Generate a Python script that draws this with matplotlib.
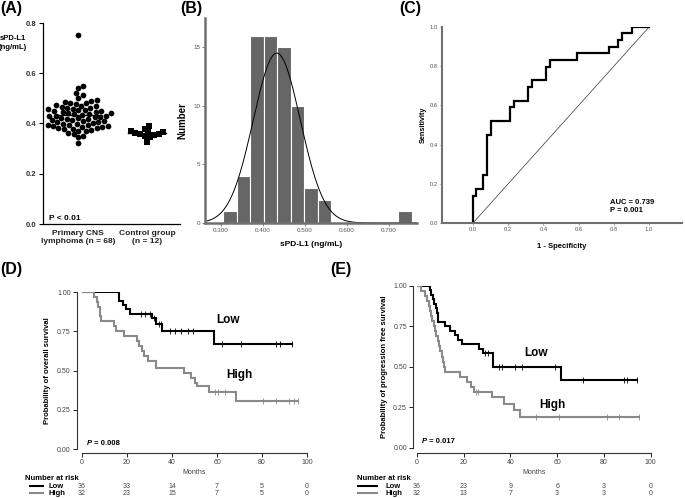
import numpy as np
import matplotlib
matplotlib.use("Agg")
import matplotlib.pyplot as plt
import matplotlib.transforms as mtransforms

plt.rcParams['font.family'] = ['Liberation Sans', 'DejaVu Sans']

W, H = 685, 498
fig = plt.figure(figsize=(W / 100, H / 100), dpi=100)

# ---------------- data ----------------
lymphoma = [0.322,
            0.345, 0.352, 0.358, 0.364,
            0.371, 0.372, 0.375, 0.377, 0.380, 0.382, 0.384, 0.386, 0.388, 0.390, 0.391, 0.393, 0.395, 0.396, 0.398, 0.399,
            0.403, 0.404, 0.406, 0.408, 0.410, 0.412, 0.414, 0.416, 0.418, 0.420, 0.422, 0.424, 0.426, 0.428, 0.430, 0.431,
            0.435, 0.436, 0.438, 0.440, 0.442, 0.444, 0.446, 0.448, 0.450, 0.452, 0.454, 0.456, 0.458, 0.460, 0.462,
            0.467, 0.468, 0.471, 0.474, 0.477, 0.480, 0.483, 0.486, 0.489, 0.492,
            0.500, 0.512, 0.520,
            0.540, 0.550,
            0.752]
control = [0.328, 0.345, 0.350, 0.355, 0.358, 0.360, 0.362, 0.365, 0.368, 0.372, 0.380, 0.392]
groups = ["Primary CNS\nlymphoma (n = 68)", "Control group\n(n = 12)"]

hist_edges = 0.306 + 0.032 * np.arange(15)
fit_mean, fit_sd, fit_peak = 0.433, 0.056, 14.5

roc_fpr = [0, 0, 0.019, 0.019, 0.057, 0.057, 0.080, 0.080, 0.105, 0.105, 0.212, 0.212, 0.235, 0.235,
           0.312, 0.312, 0.337, 0.337, 0.413, 0.413, 0.439, 0.439, 0.593, 0.593, 0.773, 0.773,
           0.824, 0.824, 0.848, 0.848, 0.905, 0.905, 1.0]
roc_tpr = [0, 0.136, 0.136, 0.173, 0.173, 0.243, 0.243, 0.45, 0.45, 0.519, 0.519, 0.59, 0.59, 0.624,
           0.624, 0.692, 0.692, 0.728, 0.728, 0.796, 0.796, 0.83, 0.83, 0.867, 0.867, 0.90,
           0.90, 0.935, 0.935, 0.969, 0.969, 1.0, 1.0]

# KM overall survival (D)
os_low_t = [16.5, 18, 19.5, 21.5, 31, 33, 35.5, 58.5]
os_low_s = [0.944, 0.917, 0.889, 0.861, 0.833, 0.796, 0.753, 0.669]
os_low_cens = [26, 27.8, 30, 32, 34.3, 35, 39, 41.5, 44, 47, 49.5, 62, 70.5, 86.3, 88, 93.3]
os_low_end = 93.5
os_high_t = [5.5, 6.5, 7.2, 7.8, 8.5, 14, 15, 18.5, 24.5, 25.5, 26.5, 27.5, 29.5, 33, 45.5, 48.5, 50, 51, 56.5, 68.5]
os_high_s = [0.969, 0.938, 0.906, 0.844, 0.813, 0.781, 0.75, 0.719, 0.688, 0.656, 0.625, 0.594,
             0.5625, 0.516, 0.484, 0.452, 0.42, 0.403, 0.366, 0.305]
os_high_cens = [59, 60.5, 63.5, 80.5, 86, 92, 94, 96]
os_high_end = 96

# KM progression free survival (E)
pfs_low_t = [5.7, 6.3, 6.9, 7.5, 8.1, 8.6, 9.0, 12.3, 14.2, 16.2, 17.8, 19.5, 26.5, 28.5, 32.5, 61.5]
pfs_low_s = [0.972, 0.944, 0.917, 0.889, 0.861, 0.833, 0.778, 0.75, 0.722, 0.694, 0.667, 0.639,
             0.611, 0.583, 0.5, 0.417]
pfs_low_cens = [29, 30.3, 35.2, 36.3, 42, 44.9, 59.1, 71, 88.5, 90, 94]
pfs_low_end = 94
pfs_high_t = [1.9, 3.6, 4.6, 5.2, 5.6, 6.1, 6.6, 7.2, 7.8, 8.4, 9.0, 9.5, 10.1, 10.6, 11.1, 11.6, 12.2,
              18.5, 21.5, 23, 24.5, 32, 37.5, 41.5, 44]
pfs_high_s = [0.969, 0.938, 0.906, 0.875, 0.844, 0.813, 0.781, 0.75, 0.719, 0.688, 0.656, 0.625, 0.594,
              0.5625, 0.531, 0.5, 0.469, 0.438, 0.406, 0.375, 0.344, 0.31, 0.27, 0.23, 0.19]
pfs_high_cens = [25.5, 26.3, 51, 61, 81.5, 86.5, 95]
pfs_high_end = 95

risk_months = [0, 20, 40, 60, 80, 100]
os_risk_low = [36, 33, 14, 7, 5, 0]
os_risk_high = [32, 23, 15, 7, 5, 0]
pfs_risk_low = [36, 23, 9, 6, 3, 0]
pfs_risk_high = [32, 13, 7, 3, 3, 0]

GRAY = '#8a8a8a'
SPINE_GRAY = '#707070'


def add_ax(l, t, r, b):
    return fig.add_axes([l / W, 1 - b / H, (r - l) / W, (b - t) / H])


def ftext(x, y, s, **kw):
    fig.text(x / W, 1 - y / H, s, **kw)


# panel letters
for lab, x, y in [("(A)", 0, 1), ("(B)", 180, 1), ("(C)", 399, 1), ("(D)", 0, 262), ("(E)", 330, 262)]:
    ftext(x, y, lab, fontsize=11.5, fontweight='bold', va='top', ha='left')

# ---------------- Panel A ----------------
axA = add_ax(43, 23, 180, 224)
axA.set_xlim(0.49, 2.48)
axA.set_ylim(0, 0.8)
px_per_x = 137 / (2.48 - 0.49)
px_per_y = 201 / 0.8


def swarm(vals, d):
    order = np.argsort(vals)
    placed = []
    offs = np.zeros(len(vals))
    for i in order:
        y = vals[i] * px_per_y
        cands = [0.0]
        for (qx, qy) in placed:
            dy = abs(y - qy)
            if dy < d:
                dx = np.sqrt(d * d - dy * dy)
                cands += [qx + dx, qx - dx]
        cands.sort(key=abs)
        xsel = 0.0
        for c in cands:
            if all((c - qx) ** 2 + (y - qy) ** 2 >= d * d - 1e-6 for qx, qy in placed):
                xsel = c
                break
        placed.append((xsel, y))
        offs[i] = xsel
    return offs / px_per_x


lv = np.array(lymphoma)
cv = np.array(control)
axA.scatter(1 + swarm(lv, 5.6), lv, s=17, color='black', zorder=3, linewidths=0)
axA.scatter(2 + swarm(cv, 5.0), cv, s=15, marker='s', color='black', zorder=3, linewidths=0)
axA.plot([1 - 0.34, 1 + 0.34], [lv.mean()] * 2, color='black', lw=1.0, zorder=4)
axA.plot([2 - 0.28, 2 + 0.28], [cv.mean()] * 2, color='black', lw=1.0, zorder=4)
axA.spines['top'].set_visible(False)
axA.spines['right'].set_visible(False)
axA.spines['left'].set_linewidth(0.9)
axA.spines['bottom'].set_linewidth(0.9)
axA.set_yticks([0, 0.2, 0.4, 0.6, 0.8])
axA.set_yticklabels(['0.0', '0.2', '0.4', '0.6', '0.8'], fontsize=5.5, fontweight='bold', color='#333333')
axA.tick_params(axis='y', length=3, width=0.8, pad=1.5)
axA.set_xticks([1, 2])
axA.set_xticklabels(groups, fontsize=6, fontweight='bold', color='#222222')
axA.tick_params(axis='x', length=0, pad=4)
axA.text(0.57, 0.02, "P < 0.01", fontsize=6, fontweight='bold', va='center')
ftext(13, 43, "sPD-L1\n(ng/mL)", fontsize=5.5, fontweight='bold', ha='center', va='center', linespacing=1.3)

# ---------------- Panel B ----------------
axB = add_ax(205, 18, 417, 223)
axB.hist(lymphoma, bins=hist_edges, color='#666666', edgecolor='white', linewidth=0.8)
axB.set_xlim(0.262, 0.767)
axB.set_ylim(0, 17.5)
xx = np.linspace(0.262, 0.767, 300)
axB.plot(xx, fit_peak * np.exp(-0.5 * ((xx - fit_mean) / fit_sd) ** 2), color='black', lw=0.7)
for s in ['top', 'right']:
    axB.spines[s].set_visible(False)
for s in ['left', 'bottom']:
    axB.spines[s].set_color(SPINE_GRAY)
    axB.spines[s].set_linewidth(1.8)
axB.set_yticks([0, 5, 10, 15])
axB.set_xticks([0.3, 0.4, 0.5, 0.6, 0.7])
axB.set_xticklabels(['0.300', '0.400', '0.500', '0.600', '0.700'])
axB.tick_params(labelsize=4.5, labelcolor='#555555', length=2, width=0.6, color=SPINE_GRAY, pad=1.5)
axB.set_ylabel("Number", fontsize=7, fontweight='bold', labelpad=4)
axB.set_xlabel("sPD-L1 (ng/mL)", fontsize=6, fontweight='bold', labelpad=6)

# ---------------- Panel C ----------------
axC = add_ax(442, 27, 682, 223)
axC.set_xlim(-0.176, 1.187)
axC.set_ylim(0, 1.0)
axC.plot([0, 1], [0, 1], color='#333333', lw=0.5)
axC.plot(roc_fpr, roc_tpr, color='black', lw=1.6, solid_joinstyle='miter')
for s in ['top', 'right']:
    axC.spines[s].set_visible(False)
for s in ['left', 'bottom']:
    axC.spines[s].set_color(SPINE_GRAY)
    axC.spines[s].set_linewidth(1.5)
axC.set_xticks([0, 0.2, 0.4, 0.6, 0.8, 1.0])
axC.set_yticks([0, 0.2, 0.4, 0.6, 0.8, 1.0])
axC.tick_params(labelsize=4.2, labelcolor='#555555', length=1.5, width=0.5, color=SPINE_GRAY, pad=1.5)
axC.set_xticklabels(['0.0', '0.2', '0.4', '0.6', '0.8', '1.0'])
axC.set_yticklabels(['0.0', '0.2', '0.4', '0.6', '0.8', '1.0'])
axC.set_ylabel("Sensitivity", fontsize=5.2, fontweight='bold', labelpad=2)
axC.set_xlabel("1 - Specificity", fontsize=5.5, fontweight='bold', labelpad=8)
axC.text(0.78, 0.125, "AUC = 0.739\nP = 0.001", fontsize=5.5, fontweight='bold', va='top', linespacing=1.2)


# ---------------- KM panels ----------------
def km(ax, t, s, cens, end, color):
    xs = [0] + list(t) + [end]
    ys = [1.0] + list(s) + [s[-1]]
    ax.step(xs, ys, where='post', color=color, lw=1.5, solid_joinstyle='miter', zorder=3)
    tt = np.array(t)
    ss = np.array(s)
    cy = []
    for c in cens:
        idx = np.searchsorted(tt, c, side='right') - 1
        cy.append(1.0 if idx < 0 else ss[idx])
    ax.plot(cens, cy, linestyle='none', marker='|', markersize=4, mew=0.6, color=color, zorder=3)


def km_axes(box, ylab, out_l, out_b):
    ax = add_ax(*box)
    ax.set_xlim(0, 100)
    ax.set_ylim(0, 1)
    for s in ['top', 'right']:
        ax.spines[s].set_visible(False)
    ax.spines['left'].set_position(('outward', out_l))
    ax.spines['bottom'].set_position(('outward', out_b))
    for s in ['left', 'bottom']:
        ax.spines[s].set_linewidth(0.8)
        ax.spines[s].set_color('#333333')
    ax.set_xticks([0, 20, 40, 60, 80, 100])
    ax.set_yticks([0, 0.25, 0.5, 0.75, 1.0])
    ax.set_yticklabels(['0.00', '0.25', '0.50', '0.75', '1.00'])
    ax.tick_params(labelsize=5, labelcolor='#444444', length=3, width=0.6, pad=1.5)
    ax.set_xlabel("Months", fontsize=5, color='#444444', labelpad=2)
    ax.set_ylabel(ylab, fontsize=5.5, fontweight='bold', labelpad=4)
    return ax


def ptext(ax, x, y, val):
    t1 = ax.text(x, y, "P", fontsize=5.5, fontweight='bold', fontstyle='italic', va='center')
    ax.annotate(" = " + val, xy=(1, 0.5), xycoords=t1, va='center', ha='left', fontsize=5.5, fontweight='bold')


def risk_table(ax, x_title, x_line0, x_line1, x_lab, low, high):
    ftext(x_title, 478, "Number at risk", fontsize=5.5, fontweight='bold', va='center')
    for yy, lab, col, vals in [(486, "Low", 'black', low), (493, "High", GRAY, high)]:
        fig.lines.append(plt.Line2D([x_line0 / W, x_line1 / W], [1 - yy / H] * 2,
                                    transform=fig.transFigure, color=col, lw=1.5))
        ftext(x_lab, yy, lab, fontsize=5.5, fontweight='bold', va='center')
        tr = mtransforms.blended_transform_factory(ax.transData, fig.transFigure)
        for m, v in zip(risk_months, vals):
            ax.text(m, 1 - yy / H, str(v), transform=tr, fontsize=5, color='#444444',
                    ha='center', va='center', clip_on=False)


axD = km_axes((82, 292, 307, 449), "Probability of overall survival", 3.6, 2.9)
km(axD, os_low_t, os_low_s, os_low_cens, os_low_end, 'black')
km(axD, os_high_t, os_high_s, os_high_cens, os_high_end, GRAY)
axD.text(59.5, 0.82, "Low", fontsize=8.5, fontweight='bold', va='center')
axD.text(64, 0.47, "High", fontsize=8.5, fontweight='bold', va='center')
ptext(axD, 2, 0.036, "0.008")
risk_table(axD, 25, 30, 43, 49, os_risk_low, os_risk_high)

axE = km_axes((416.7, 285.7, 650.7, 447.7), "Probability of progression free survival", 2.5, 3.6)
km(axE, pfs_low_t, pfs_low_s, pfs_low_cens, pfs_low_end, 'black')
km(axE, pfs_high_t, pfs_high_s, pfs_high_cens, pfs_high_end, GRAY)
axE.text(46, 0.586, "Low", fontsize=8.5, fontweight='bold', va='center')
axE.text(52.5, 0.263, "High", fontsize=8.5, fontweight='bold', va='center')
ptext(axE, 2, 0.037, "0.017")
risk_table(axE, 357, 358, 377, 385, pfs_risk_low, pfs_risk_high)

fig.savefig("out.png", dpi=100)
